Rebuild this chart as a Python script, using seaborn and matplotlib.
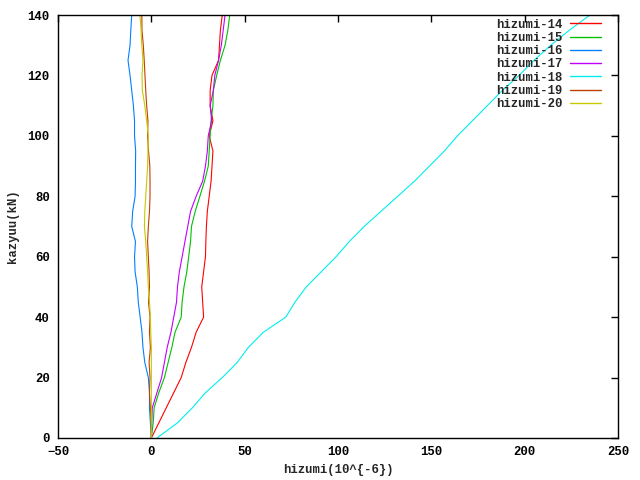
import numpy as np
import pandas as pd
import matplotlib
matplotlib.use("Agg")
import matplotlib.pyplot as plt
import seaborn as sns

# load steps (kN)
load = [0, 5, 10, 15, 20, 25, 30, 35, 40, 45, 50, 55, 60, 65, 70,
        75, 80, 85, 90, 95, 100, 105, 110, 115, 120, 125, 130, 135, 140]

# strain readings (10^-6) per gauge
h14 = [0, 4, 8, 12, 16, 18.5, 21.5, 24, 28, 27.5, 27, 28, 29, 29.2, 29.5,
       30, 31, 32, 32.5, 33, 31, 33, 31.5, 31.5, 32.5, 36, 36.5, 37, 38]
h15 = [0, 1, 1.5, 4, 7, 9, 11, 12.7, 16, 16.5, 17.5, 19, 20, 21, 21.5,
       23.5, 26, 28.5, 30.5, 31, 31.5, 32, 33, 33.2, 35, 37, 39.5, 41, 42]
h16 = [0, -0.5, -1, -1, -1.6, -3.5, -4.5, -5, -6, -7, -7.5, -8.7, -9, -8.5, -10.5,
       -10, -8.7, -8.5, -8.5, -8.4, -9, -9, -9.6, -10.5, -11.4, -12.5, -11.4, -11, -10.5]
h17 = [0, 0.2, 0.5, 3, 5.5, 7, 8.5, 10.5, 12, 13.5, 14, 15, 16.5, 18, 19.5,
       21, 24, 27.5, 29, 30, 30.5, 32.3, 31.5, 33.2, 34, 36, 37.5, 38.5, 39.5]
h18 = [3, 14, 22, 29, 38, 46, 52, 60, 72, 77, 83, 91, 99, 106, 114,
       123, 132, 141, 149, 157, 164, 172, 180, 188, 197, 205, 214, 224, 235]
h19 = [0, 0, -0.5, -1, -0.7, -1.2, -0.5, -1, -0.7, -1.5, -1, -1.2, -1.6, -2, -1.6,
       -1, -0.7, -0.7, -0.8, -1.5, -2, -1.8, -2.5, -3, -3.4, -3.8, -4.3, -5, -5.1]
h20 = [0, 0, 0, 0, 0, 0, 0, -0.3, -0.5, -1, -1.6, -2, -2.5, -3, -3.7,
       -3.5, -3, -2.5, -2, -1.8, -1.6, -2.5, -3.5, -4.8, -5, -4.5, -5.1, -5.5, -6.1]

names = ["hizumi-14", "hizumi-15", "hizumi-16", "hizumi-17", "hizumi-18", "hizumi-19", "hizumi-20"]
series = [h14, h15, h16, h17, h18, h19, h20]
colors = ["#ff0000", "#00c000", "#0080ff", "#c000ff", "#00eeee", "#c04000", "#c8c800"]

frames = []
for n, s in zip(names, series):
    frames.append(pd.DataFrame({"strain": s, "load": load, "gauge": n}))
df = pd.concat(frames, ignore_index=True)

sns.set_style("white")
plt.rcParams["font.family"] = ["Liberation Mono", "DejaVu Sans Mono"]
plt.rcParams["font.weight"] = "bold"
fs = 8.8

fig = plt.figure(figsize=(6.4, 4.8), dpi=100)
ax = fig.add_axes([58/640, 42/480, 560/640, 423/480])

sns.lineplot(data=df, x="strain", y="load", hue="gauge", palette=colors, sort=False,
             estimator=None, units="gauge", linewidth=0.8, ax=ax, legend=False)

ax.set_xlim(-50, 250)
ax.set_ylim(0, 140)
ax.set_xticks(np.arange(-50, 251, 50))
ax.set_yticks(np.arange(0, 141, 20))
ax.tick_params(direction="in", top=True, right=True, length=5, width=1, labelsize=fs, colors="black", pad=6)
for lab in ax.get_xticklabels() + ax.get_yticklabels():
    lab.set_fontweight("bold")
for sp in ax.spines.values():
    sp.set_color("black")
    sp.set_linewidth(1)
    sp.set_visible(True)
ax.set_xlabel("hizumi(10^{-6})", fontsize=fs, fontweight="bold", labelpad=4)
ax.set_ylabel("kazyuu(kN)", fontsize=fs, fontweight="bold", labelpad=6)

handles = [plt.Line2D([], [], color=c, linewidth=1) for c in colors]
leg = ax.legend(handles, names, loc="upper right", bbox_to_anchor=(1 - 13/560, 1),
                frameon=False, markerfirst=False, handlelength=2.6, handletextpad=0.6,
                labelspacing=0.1, borderaxespad=0, borderpad=0.3,
                prop={"weight": "bold", "size": fs})

fig.savefig("out.png", dpi=100)
